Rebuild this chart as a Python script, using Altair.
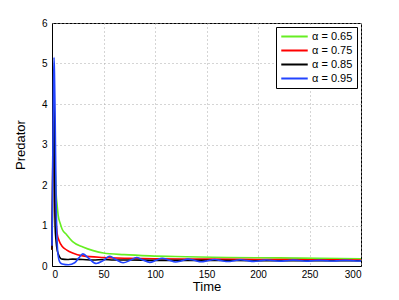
import altair as alt
import pandas as pd

labels = ["α = 0.65", "α = 0.75", "α = 0.85", "α = 0.95"]
colors = ["#66ee22", "#ff0000", "#000000", "#2244ff"]

t_green = [0, 0.5, 1, 1.5, 2, 3, 4, 5, 6, 8, 10, 14, 20, 30, 40, 50, 70, 95, 130, 170, 220, 260, 300]
v_green = [0.4, 1.5, 2.8, 3.3, 3.2, 2.5, 1.8, 1.5, 1.25, 1.05, 0.9, 0.78, 0.6, 0.47, 0.38, 0.32, 0.28, 0.25, 0.23, 0.21, 0.2, 0.19, 0.18]

t_red = [0, 0.5, 1, 1.5, 2, 3, 4, 5, 7, 10, 14, 20, 30, 50, 75, 100, 150, 200, 250, 300]
v_red = [0.4, 1.6, 3.2, 3.8, 3.4, 1.4, 1.05, 0.8, 0.62, 0.48, 0.4, 0.32, 0.25, 0.21, 0.19, 0.18, 0.17, 0.16, 0.155, 0.15]

t_black = [0, 0.5, 1, 1.5, 2, 3, 4, 5, 6, 8, 10, 15, 20, 30, 40, 50, 60, 75, 100, 150, 200, 250, 300]
v_black = [0.4, 1.8, 3.6, 4.4, 4.0, 1.0, 0.6, 0.4, 0.3, 0.2, 0.17, 0.16, 0.17, 0.16, 0.15, 0.16, 0.15, 0.15, 0.14, 0.14, 0.13, 0.13, 0.13]

t_blue = [0, 0.5, 1, 1.5, 2, 2.5, 3, 4, 5, 6, 8, 10, 16, 22, 26, 30, 36, 43, 50, 56, 62, 69, 76, 82, 88, 95, 101, 107,
          113, 120, 126, 132, 138, 145, 151, 158, 164, 171, 177, 183, 189, 196, 202, 208, 214, 221, 227, 234, 240,
          247, 253, 259, 265, 272, 278, 285, 291, 298, 300]
v_blue = [0.5, 1.8, 3.2, 4.5, 5.15, 4.6, 3.8, 1.6, 0.6, 0.25, 0.08, 0.05, 0.03, 0.08, 0.2, 0.3, 0.18, 0.06, 0.14, 0.24, 0.16, 0.08, 0.14, 0.21, 0.15, 0.09, 0.14, 0.19,
          0.15, 0.1, 0.13, 0.17, 0.14, 0.105, 0.13, 0.16, 0.135, 0.11, 0.13, 0.155, 0.135, 0.115, 0.13, 0.15, 0.135, 0.12, 0.13,
          0.145, 0.135, 0.12, 0.13, 0.14, 0.132, 0.122, 0.13, 0.14, 0.132, 0.125, 0.127]

rows = []
for lab, ts, vs in zip(labels, [t_green, t_red, t_black, t_blue], [v_green, v_red, v_black, v_blue]):
    for t, v in zip(ts, vs):
        rows.append({"t": t, "v": v, "s": lab})
df = pd.DataFrame(rows)

font = "Liberation Sans"
axis_common = dict(labelFontSize=10, titleFontSize=13, titleFontWeight="normal", ticks=False,
                   gridDash=[1, 3], gridColor="#aaaaaa", domainColor="#000000",
                   labelColor="#000000", titleColor="#000000")

chart = alt.Chart(df).mark_line(strokeWidth=1.6, interpolate="monotone").encode(
    x=alt.X("t:Q", title="Time", scale=alt.Scale(domain=[0, 300], nice=False),
            axis=alt.Axis(values=[0, 50, 100, 150, 200, 250, 300], labelPadding=3, titlePadding=1, **axis_common)),
    y=alt.Y("v:Q", title="Predator", scale=alt.Scale(domain=[0, 6], nice=False),
            axis=alt.Axis(values=[0, 1, 2, 3, 4, 5, 6], labelPadding=5, titlePadding=14, **axis_common)),
    color=alt.Color("s:N", scale=alt.Scale(domain=labels, range=colors),
                    legend=alt.Legend(title=None, orient="top-right", offset=4, strokeColor="#000000",
                                      fillColor="#ffffff", padding=4, symbolType="stroke", symbolSize=700,
                                      symbolStrokeWidth=2, labelFontSize=11, rowPadding=2, clipHeight=11,
                                      labelOffset=3, labelColor="#000000")),
    detail="s:N",
).properties(
    width=309, height=243,
    autosize=alt.AutoSizeParams(type="none"),
    padding={"left": 44, "top": 15, "right": 28, "bottom": 26},
).configure(font=font).configure_view(stroke="#000000", strokeWidth=1)

chart.save("out.html", embed_options={"renderer": "svg", "actions": False})
